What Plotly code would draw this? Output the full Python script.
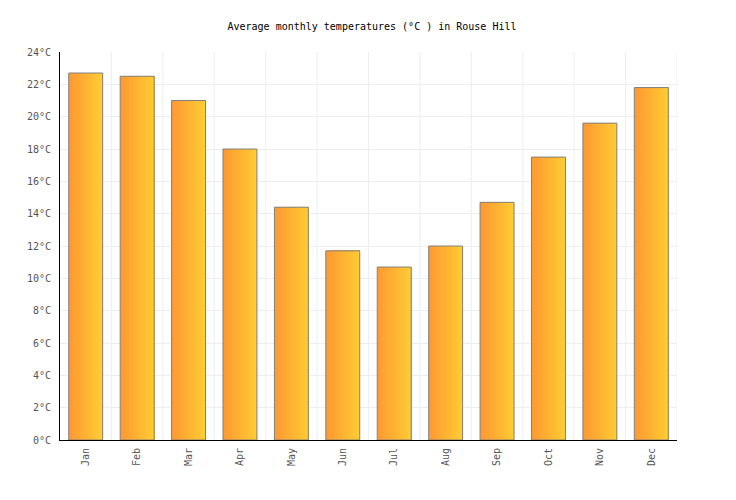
import plotly.graph_objects as go

months = ["Jan", "Feb", "Mar", "Apr", "May", "Jun", "Jul", "Aug", "Sep", "Oct", "Nov", "Dec"]
temps = [22.7, 22.5, 21.0, 18.0, 14.4, 11.7, 10.7, 12.0, 14.7, 17.5, 19.6, 21.8]
y_ticks = list(range(0, 25, 2))
y_labels = [f"{v}°C" for v in y_ticks]
title_text = "Average monthly temperatures (°C ) in Rouse Hill"

bar_width = 0.66
n_slices = 24
c_left = (255, 153, 51)
c_right = (255, 204, 51)

fig = go.Figure()
sw = bar_width / n_slices
for i in range(n_slices):
    t = i / (n_slices - 1)
    col = tuple(round(a + (b - a) * t) for a, b in zip(c_left, c_right))
    fig.add_trace(go.Bar(
        x=months, y=temps,
        width=bar_width - i * sw, offset=-bar_width / 2 + i * sw,
        marker=dict(color=f"rgb{col}", line=dict(width=0)),
        hoverinfo="skip", showlegend=False,
    ))
fig.add_trace(go.Bar(
    x=months, y=temps, width=bar_width, offset=-bar_width / 2,
    marker=dict(color="rgba(0,0,0,0)", line=dict(color="#808080", width=1)),
    showlegend=False,
))

font = "DejaVu Sans Mono"
fig.update_layout(
    barmode="overlay",
    width=728, height=492,
    margin=dict(l=52, r=59, t=44, b=60),
    paper_bgcolor="white", plot_bgcolor="white",
    title=dict(text=title_text, x=0.5, xanchor="center", y=0.9634, yanchor="middle",
               font=dict(family=font, size=10, color="black")),
    font=dict(family=font, size=10, color="#555555"),
    xaxis=dict(
        type="category", tickangle=-90, showline=True, linecolor="black", linewidth=1,
        showgrid=False, ticks="", ticklabelstandoff=3,
        tickfont=dict(family=font, size=10, color="#555555"),
        range=[-0.5, 11.5],
    ),
    yaxis=dict(
        range=[0, 24], tickvals=y_ticks, ticktext=y_labels,
        showline=True, linecolor="black", linewidth=1,
        showgrid=True, gridcolor="#eeeeee", gridwidth=1, zeroline=False,
        ticks="", ticklabelstandoff=6,
        tickfont=dict(family=font, size=10, color="#555555"),
    ),
)
# vertical gridlines at category boundaries
for k in range(1, 13):
    fig.add_shape(type="line", xref="x", yref="paper", x0=k - 0.5, x1=k - 0.5, y0=0, y1=1,
                  line=dict(color="#eeeeee", width=1), layer="below")

fig.write_html("out.html")
